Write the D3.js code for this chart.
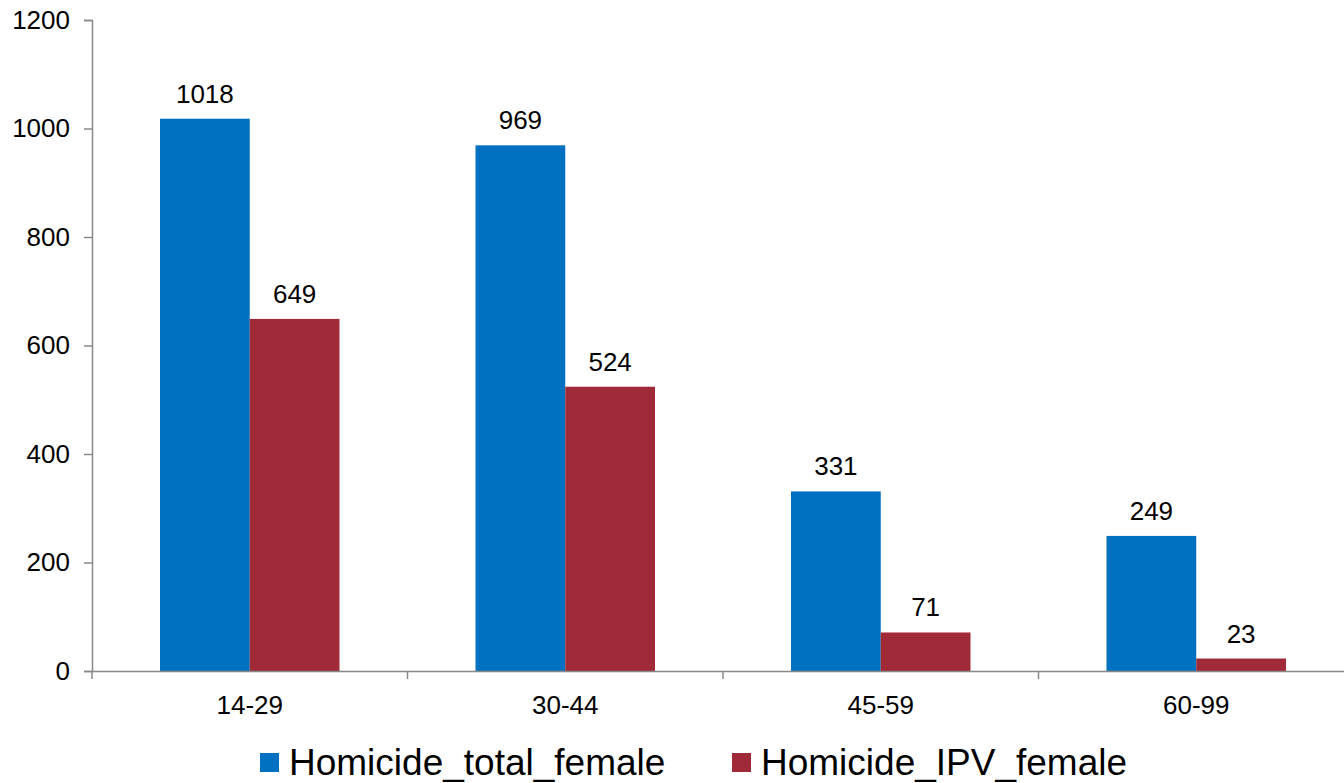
<!DOCTYPE html>
<html>
<head>
<meta charset="UTF-8">
<script src="https://d3js.org/d3.v7.min.js"></script>
<style>
  body { margin: 0; background: #fff; }
  svg { display: block; font-family: "Liberation Sans", Arial, sans-serif; }
</style>
</head>
<body>
<svg id="chart" width="1344" height="783"></svg>
<script>
// data
const ageGroups = ["14-29", "30-44", "45-59", "60-99"];
const totalFemale = [1018, 969, 331, 249];
const ipvFemale = [649, 524, 71, 23];
const seriesNames = ["Homicide_total_female", "Homicide_IPV_female"];
const yTicks = [0, 200, 400, 600, 800, 1000, 1200];

const colors = ["#0070c0", "#a12a38"];
const rows = ageGroups.map((g, i) => ({ group: g, values: [totalFemale[i], ipvFemale[i]] }));

const svg = d3.select("#chart");
const plotLeft = 92, plotRight = 1354, plotTop = 20, plotBottom = 671;

const x = d3.scaleBand().domain(ageGroups).range([plotLeft, plotRight]);
const inner = d3.scaleBand().domain([0, 1]).range([68, x.bandwidth() - 68]);
const y = d3.scaleLinear().domain([0, 1200]).range([plotBottom, plotTop]);

// y axis
const yAxis = svg.append("g")
  .attr("transform", `translate(${plotLeft},0)`)
  .call(d3.axisLeft(y).tickValues(yTicks).tickFormat(d3.format("d")).tickSize(8).tickPadding(14));
yAxis.select(".domain").attr("stroke", "#898989").attr("stroke-width", 1.5);
yAxis.selectAll(".tick line").attr("stroke", "#898989").attr("stroke-width", 1.5);
yAxis.selectAll(".tick text").attr("font-size", 26).attr("fill", "#000")
  .attr("font-family", "Liberation Sans, Arial, sans-serif");

// bars
const grp = svg.append("g").selectAll("g").data(rows).join("g")
  .attr("transform", d => `translate(${x(d.group)},0)`);
grp.selectAll("rect").data(d => d.values).join("rect")
  .attr("x", (d, i) => inner(i))
  .attr("width", inner.bandwidth())
  .attr("y", d => y(d))
  .attr("height", d => y(0) - y(d))
  .attr("fill", (d, i) => colors[i]);
grp.selectAll("text").data(d => d.values).join("text")
  .attr("x", (d, i) => inner(i) + inner.bandwidth() / 2)
  .attr("y", d => y(d) - 16)
  .attr("text-anchor", "middle")
  .attr("font-size", 26)
  .attr("fill", "#000")
  .text(d => d);

// x axis
const xAxis = svg.append("g")
  .attr("transform", `translate(0,${plotBottom})`)
  .call(d3.axisBottom(x).tickSize(0).tickPadding(25));
xAxis.select(".domain").attr("stroke", "#898989").attr("stroke-width", 1.5);
xAxis.selectAll(".tick text").attr("font-size", 26).attr("fill", "#000")
  .attr("font-family", "Liberation Sans, Arial, sans-serif");
// category boundary ticks
xAxis.selectAll("line.sep").data(ageGroups).join("line")
  .attr("class", "sep")
  .attr("x1", d => x(d)).attr("x2", d => x(d))
  .attr("y1", 0).attr("y2", 8)
  .attr("stroke", "#898989").attr("stroke-width", 1.5);

// legend
const legendX = [260, 732];
const leg = svg.append("g").selectAll("g").data(seriesNames).join("g")
  .attr("transform", (d, i) => `translate(${legendX[i]},753)`);
leg.append("rect").attr("width", 19).attr("height", 19)
  .attr("fill", (d, i) => colors[i]);
leg.append("text").attr("x", 29).attr("y", 22)
  .attr("font-size", 37).attr("fill", "#000")
  .text(d => d);
</script>
</body>
</html>
